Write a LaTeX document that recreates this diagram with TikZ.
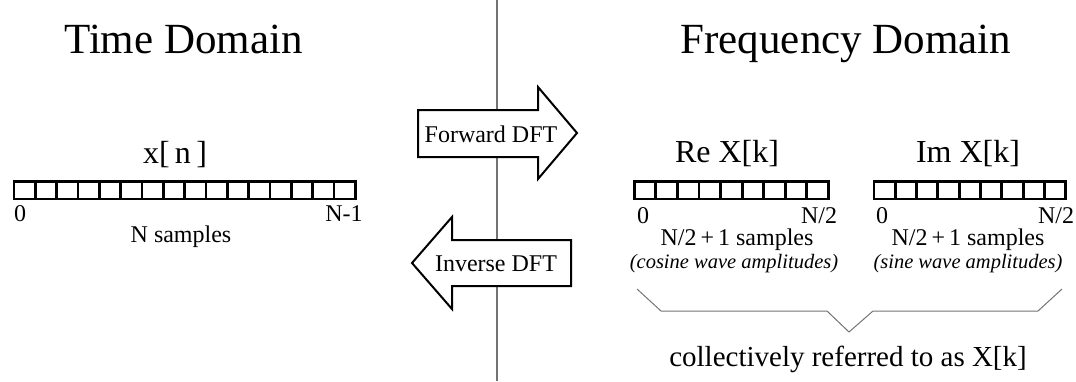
\documentclass[tikz,border=0pt]{standalone}
\usepackage{fontspec}
\setmainfont{Liberation Serif}
\begin{document}
\begin{tikzpicture}[x=1pt,y=-1pt,
  title/.style={font=\fontsize{43}{43}\selectfont, anchor=base, inner sep=0pt},
  head/.style={font=\fontsize{32}{32}\selectfont, anchor=base, inner sep=0pt},
  lab/.style={font=\fontsize{24}{24}\selectfont, anchor=base, inner sep=0pt},
  note/.style={font=\fontsize{20.5}{20.5}\selectfont\itshape, anchor=base, inner sep=0pt},
  cell/.style={draw=black, line width=2.8pt, minimum width=21.4pt, minimum height=17.5pt, inner sep=0pt, anchor=north west},
  bigarrow/.style={draw=black, line width=2pt, fill=white, line join=miter},
  guide/.style={draw=black!55, line width=1.3pt}
]
\useasboundingbox (0,0) rectangle (1076,381);
% divider
\coordinate (top) at (497,0);
\coordinate (bot) at (497,381);
\draw[guide] (top) -- (bot);

% titles
\node[title] (tdom) at (183.5,53) {Time Domain};
\node[title] (fdom) at (846,53) {Frequency Domain};

% time domain strip
\node[head] (xn) at (175,163) {x[\,n\,]};
\foreach \i in {0,...,15} {
  \node[cell] (t\i) at ({12.5+\i*21.34},180) {};
}
\node[lab] (t0lab) at (20,221) {0};
\node[lab] (tNlab) at (344,221) {N-1};
\node[lab] (tsamp) at (181,242) {N samples};

% arrows
\draw[bigarrow] (418,110) -- (538,110) -- (538,87) -- (577,133) -- (538,179) -- (538,157) -- (418,157) -- cycle;
\node[lab] (fwd) at (491,142) {Forward DFT};
\draw[bigarrow] (571,240) -- (452,240) -- (452,217) -- (412,263) -- (452,309) -- (452,286) -- (571,286) -- cycle;
\node[lab] (inv) at (496,271) {Inverse DFT};

% Re strip
\node[head] (rex) at (727,162) {Re X[k]};
\foreach \i in {0,...,8} {
  \node[cell] (r\i) at ({633+\i*21.55},180) {};
}
\node[lab] (r0lab) at (643,223) {0};
\node[lab] (rNlab) at (819,223) {N/2};
\node[lab] (rsamp) at (737,245) {N/2\,+\,1 samples};
\node[note] (rnote) at (734,268) {(cosine wave amplitudes)};

% Im strip
\node[head] (imx) at (968,162) {Im X[k]};
\foreach \i in {0,...,8} {
  \node[cell] (m\i) at ({872.5+\i*21.3},180) {};
}
\node[lab] (m0lab) at (882,223) {0};
\node[lab] (mNlab) at (1056,223) {N/2};
\node[lab] (msamp) at (968,245) {N/2\,+\,1 samples};
\node[note] (mnote) at (968,268) {(sine wave amplitudes)};

% brace
\coordinate (b1) at (637,289);
\coordinate (b2) at (661,311);
\coordinate (b3) at (827,311);
\coordinate (b4) at (849,332);
\coordinate (b5) at (873,311);
\coordinate (b6) at (1038,311);
\coordinate (b7) at (1062,289);
\draw[guide, line width=1pt] (b1) -- (b2) -- (b3) -- (b4) -- (b5) -- (b6) -- (b7);
\node[head, font=\fontsize{29}{29}\selectfont] (coll) at (848,366) {collectively referred to as X[k]};
\end{tikzpicture}
\end{document}
